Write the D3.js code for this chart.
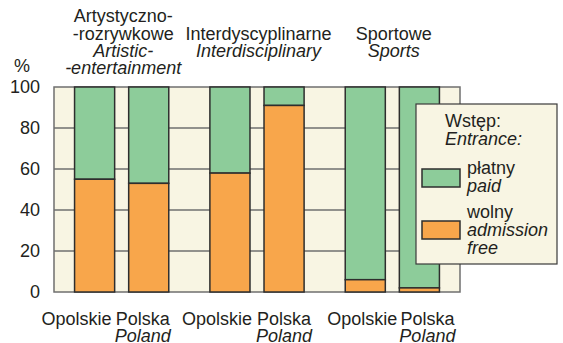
<!DOCTYPE html>
<meta charset="utf-8">
<style>
  body { margin: 0; background: #fff; }
  svg { font-family: "Liberation Sans", Arial, sans-serif; font-size: 18px; fill: #231f20; }
  .grid line { stroke: #6f6f6f; stroke-width: 1.5; }
  .axis text { font-size: 18px; fill: #231f20; }
  .bar { stroke: #2e2e2e; stroke-width: 1.5; }
  .en { font-style: italic; }
</style>
<svg width="563" height="343"></svg>
<script src="https://d3js.org/d3.v7.min.js"></script>
<script>

// data
var groupsPl = [['Artystyczno-', '-rozrywkowe'], ['Interdyscyplinarne'], ['Sportowe']];
var groupsEn = [['Artistic-', '-entertainment'], ['Interdisciplinary'], ['Sports']];
var places = ['Opolskie', 'Polska'];
var placesEn = ['', 'Poland'];
var freeValues = [[55, 53], [58, 91], [6, 2]];
var paidValues = [[45, 47], [42, 9], [94, 98]];
var ticks = [0, 20, 40, 60, 80, 100];

var colors = { paid: '#8dcc9a', free: '#f8a64b', bg: '#f8f5e3' };

var svg = d3.select('svg');
var plotLeft = 54, plotRight = 460, plotTop = 87, plotBottom = 292;

var x0 = d3.scaleBand().domain(d3.range(groupsPl.length)).range([plotLeft, plotRight]);
var x1 = d3.scaleBand().domain(places).range([0, x0.bandwidth()])
    .paddingInner(14 / 54).paddingOuter(0.38);
var y = d3.scaleLinear().domain([0, 100]).range([plotBottom, plotTop]);

// plot background
svg.append('rect')
    .attr('x', plotLeft).attr('y', plotTop)
    .attr('width', plotRight - plotLeft).attr('height', plotBottom - plotTop)
    .attr('fill', colors.bg)
    .attr('stroke', '#6f6f6f').attr('stroke-width', 1.5);

// gridlines
svg.append('g').attr('class', 'grid')
  .selectAll('line')
  .data(ticks.filter(function(t) { return t > 0 && t < 100; }))
  .enter().append('line')
    .attr('x1', plotLeft).attr('x2', plotRight)
    .attr('y1', function(d) { return y(d); })
    .attr('y2', function(d) { return y(d); });

// y axis
var axis = svg.append('g').attr('class', 'axis')
    .attr('transform', 'translate(' + plotLeft + ',0)')
    .call(d3.axisLeft(y).tickValues(ticks).tickSize(0).tickPadding(14));
axis.select('.domain').remove();
axis.selectAll('text').attr('font-family', null).attr('font-size', null);

svg.append('text').attr('x', 22).attr('y', 72).attr('text-anchor', 'middle').text('%');

// bars
var rows = [];
freeValues.forEach(function(g, gi) {
  g.forEach(function(v, pi) {
    rows.push({ g: gi, p: places[pi], free: v, paid: paidValues[gi][pi] });
  });
});

var bars = svg.append('g').selectAll('g')
  .data(rows).enter().append('g')
    .attr('transform', function(d) { return 'translate(' + (x0(d.g) + x1(d.p)) + ',0)'; });

bars.append('rect').attr('class', 'bar')
    .attr('width', x1.bandwidth())
    .attr('y', function(d) { return y(d.free + d.paid); })
    .attr('height', function(d) { return y(d.free) - y(d.free + d.paid); })
    .attr('fill', colors.paid);

bars.append('rect').attr('class', 'bar')
    .attr('width', x1.bandwidth())
    .attr('y', function(d) { return y(d.free); })
    .attr('height', function(d) { return y(0) - y(d.free); })
    .attr('fill', colors.free);

// bottom labels (nudged to keep them from overlapping)
var labelShift = [-18, -6, -13, 0, -3, 8];
rows.forEach(function(d, i) {
  var cx = x0(d.g) + x1(d.p) + x1.bandwidth() / 2 + labelShift[i];
  var pi = places.indexOf(d.p);
  svg.append('text').attr('x', cx).attr('y', 325).attr('text-anchor', 'middle').text(d.p);
  if (placesEn[pi]) {
    svg.append('text').attr('class', 'en').attr('x', cx).attr('y', 342)
        .attr('text-anchor', 'middle').text(placesEn[pi]);
  }
});

// group titles
var lineH = 17.3;
groupsPl.forEach(function(pl, gi) {
  var lines = pl.map(function(t) { return { t: t, en: false }; })
      .concat(groupsEn[gi].map(function(t) { return { t: t, en: true }; }));
  var cx = x0(gi) + x0.bandwidth() / 2 + 1.5;
  lines.forEach(function(l, i) {
    svg.append('text')
        .attr('class', l.en ? 'en' : null)
        .attr('x', cx)
        .attr('y', 48.3 + (i - (lines.length - 1) / 2) * lineH)
        .attr('text-anchor', 'middle')
        .text(l.t);
  });
});

// legend
var lg = svg.append('g').attr('transform', 'translate(416,104)');
lg.append('rect').attr('width', 141).attr('height', 160)
    .attr('fill', colors.bg).attr('stroke', '#3a3a3a').attr('stroke-width', 1.2);
lg.append('text').attr('x', 29).attr('y', 23).text('Wstęp:');
lg.append('text').attr('class', 'en').attr('x', 29).attr('y', 41).text('Entrance:');

var legendItems = [
  { color: colors.paid, y: 65, pl: ['płatny'], en: ['paid'] },
  { color: colors.free, y: 117, pl: ['wolny'], en: ['admission', 'free'] }
];
legendItems.forEach(function(it) {
  lg.append('rect').attr('class', 'bar')
      .attr('x', 6).attr('y', it.y).attr('width', 38).attr('height', 18)
      .attr('fill', it.color);
  var ls = it.pl.map(function(t) { return { t: t, en: false }; })
      .concat(it.en.map(function(t) { return { t: t, en: true }; }));
  ls.forEach(function(l, i) {
    lg.append('text').attr('class', l.en ? 'en' : null)
        .attr('x', 51).attr('y', (it.y === 65 ? 70 : 114) + i * 18.2)
        .text(l.t);
  });
});

</script>
